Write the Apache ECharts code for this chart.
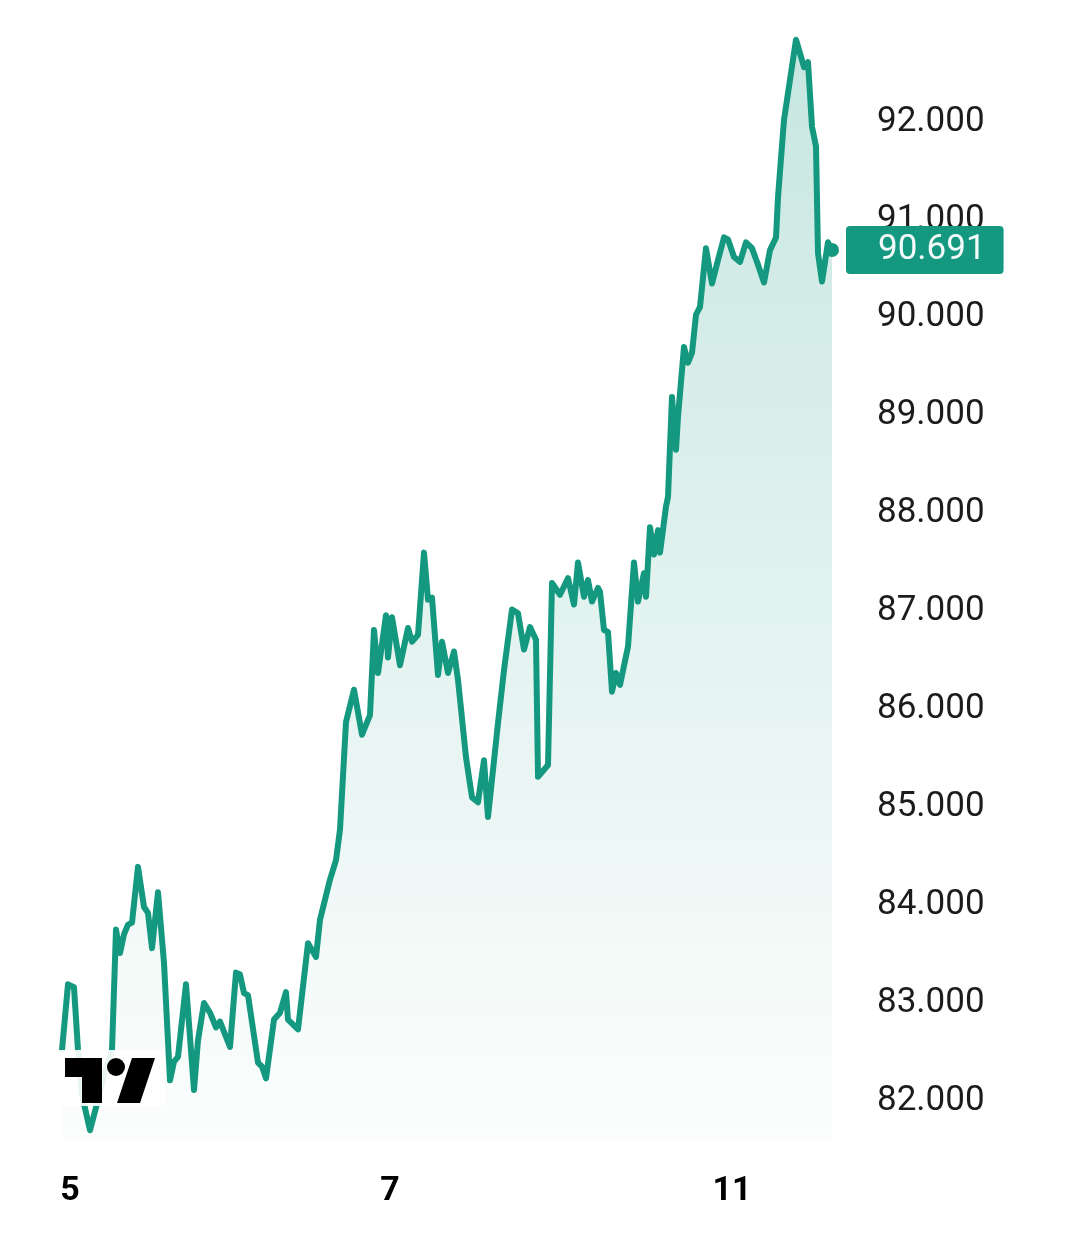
<!DOCTYPE html>
<html>
<head>
<meta charset="utf-8">
<script src="https://cdn.jsdelivr.net/npm/echarts@6/dist/echarts.min.js"></script>
<style>
html,body{margin:0;padding:0;background:#fff;}
#chart{width:1080px;height:1238px;}
</style>
</head>
<body>
<div id="chart"></div>
<script>
// bar index (time) of each traced point
const times = [0,3,6,8,10,14,18,21,25,27,29,31,33,35,38,41,43,45,48,51,54,56,58,62,66,68,71,74,77,79,84,87,89,91,93,98,100,102,106,109,112,113,118,123,127,129,134,137,139,142,146,150,154,156,158,162,163,165,169,173,175,178,181,183,185,188,190,193,196,198,202,205,208,211,213,218,221,225,228,231,234,237,238,243,245,249,253,256,258,261,263,265,268,269,271,273,275,277,279,283,286,288,291,292,294,296,298,299,302,303,305,307,308,311,313,315,317,319,322,325,328,331,333,336,339,342,345,348,351,354,357,358,361,367,368,371,373,375,377,378,380,383,385];
const prices = [82520,83190,83160,82520,82060,81700,82010,82270,82520,83750,83510,83700,83800,83820,84390,83980,83920,83560,84130,83410,82210,82400,82450,83190,82110,82620,83000,82900,82750,82810,82550,83310,83290,83100,83080,82390,82350,82230,82830,82900,83110,82830,82730,83610,83470,83850,84260,84460,84770,85870,86200,85740,85940,86810,86370,86960,86530,86940,86450,86830,86690,86760,87600,87120,87140,86350,86690,86370,86590,86300,85510,85100,85050,85480,84900,85860,86400,87020,86980,86610,86840,86710,85310,85430,87290,87170,87340,87070,87500,87150,87320,87100,87240,87200,86810,86790,86180,86370,86250,86640,87500,87100,87390,87150,87860,87580,87830,87600,88070,88170,89190,88650,88990,89700,89540,89640,90030,90110,90710,90350,90590,90820,90800,90620,90570,90770,90710,90540,90360,90690,90820,91230,92020,92840,92820,92560,92610,91950,91750,90660,90370,90770,90691];
const xTickValues = [4,164,335];
const xTickLabels = ['5','7','11'];
const yTicks = [82000,83000,84000,85000,86000,87000,88000,89000,90000,91000,92000];

const GREEN = '#14987f';
const data = times.map((t,i)=>[t, prices[i]]);
const lastT = times[times.length-1];
const lastP = prices[prices.length-1];
const fmt = v => (v/1000).toFixed(3);

const chart = echarts.init(document.getElementById('chart'), null, {renderer:'canvas'});
chart.setOption({
  animation:false,
  backgroundColor:'#ffffff',
  grid:{left:62, right:248, top:24, bottom:98, containLabel:false},
  xAxis:{
    type:'value', min:0, max:lastT,
    axisLine:{show:false}, axisTick:{show:false}, splitLine:{show:false},
    axisLabel:{
      customValues:xTickValues,
      formatter:v=>{const i=xTickValues.indexOf(v);return i>=0?xTickLabels[i]:'';},
      fontSize:34, fontWeight:'bold', color:'#000', margin:34, fontFamily:'Roboto'
    }
  },
  yAxis:{
    type:'value', position:'right', min:81600, max:93000,
    axisLine:{show:false}, axisTick:{show:false}, splitLine:{show:false},
    axisLabel:{
      customValues:yTicks, formatter:fmt,
      fontSize:35, color:'#1c1c1c', margin:45, fontFamily:'Roboto', align:'left',
      padding:[6,0,0,0]
    }
  },
  series:[{
    type:'line', data:data, showSymbol:false, smooth:false, z:5,
    lineStyle:{width:6, color:GREEN, join:'round', cap:'round'},
    itemStyle:{color:GREEN},
    areaStyle:{color:new echarts.graphic.LinearGradient(0,0,0,1,[
      {offset:0,color:'rgba(20,152,127,0.34)'},
      {offset:1,color:'rgba(20,152,127,0.02)'}
    ])},
    markLine:{
      silent:true, symbol:['none','none'],
      lineStyle:{width:1, color:'rgba(0,0,0,0)', type:'solid'},
      data:[{yAxis:lastP}],
      label:{
        show:true, position:'end', distance:14, formatter:()=>fmt(lastP),
        backgroundColor:GREEN, color:'#f2fbf9', fontSize:35, fontFamily:'Roboto',
        lineHeight:36, padding:[6,18,6,32], borderRadius:4
      }
    },
    markPoint:{
      symbol:'circle', symbolSize:14, silent:true,
      itemStyle:{color:GREEN},
      label:{show:false},
      data:[{coord:[lastT,lastP]}]
    }
  }],
  graphic:[
    {type:'rect', z:100, shape:{x:55,y:1050,width:110,height:56}, style:{fill:'rgba(255,255,255,0.9)'}},
    {type:'polygon', z:101, shape:{points:[[65,1058],[102,1058],[102,1103],[82,1103],[82,1077],[65,1077]]}, style:{fill:'#000'}},
    {type:'circle', z:101, shape:{cx:116,cy:1067,r:9}, style:{fill:'#000'}},
    {type:'polygon', z:101, shape:{points:[[132,1058],[155,1058],[140,1103],[117,1103]]}, style:{fill:'#000'}}
  ]
});
</script>
</body>
</html>
